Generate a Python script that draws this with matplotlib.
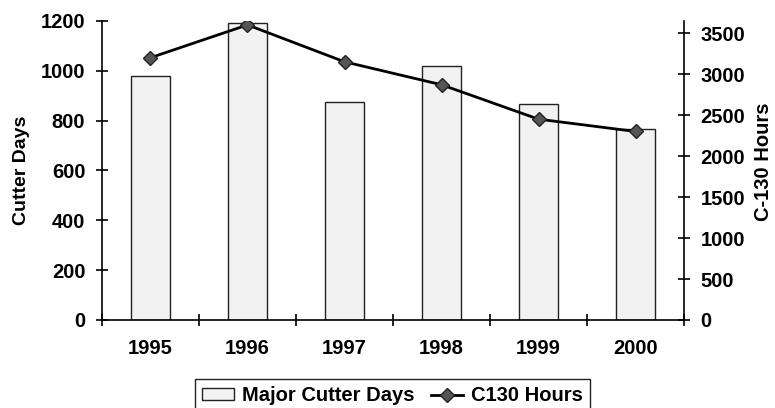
import numpy as np
import matplotlib.pyplot as plt

plt.rcParams['font.family'] = ['Liberation Sans', 'DejaVu Sans']

years = ['1995', '1996', '1997', '1998', '1999', '2000']
cutter_days = [980, 1190, 875, 1020, 865, 765]
c130_hours = [3200, 3600, 3150, 2870, 2450, 2300]

x = np.arange(len(years))

fig = plt.figure(figsize=(7.75, 4.08), dpi=100)
ax = fig.add_axes([0.1316, 0.2157, 0.7510, 0.7333])
ax2 = ax.twinx()

# bars on left axis
bars = ax.bar(x, cutter_days, width=0.4, color='#f2f2f2', edgecolor='#222222',
              linewidth=1.0, label='Major Cutter Days')
ax.set_xlim(-0.5, 5.5)
ax.set_ylim(0, 1200)
ax.set_yticks(np.arange(0, 1201, 200))

# line on right axis
line, = ax2.plot(x, c130_hours, color='black', linewidth=2, marker='D',
                 markersize=7.5, markerfacecolor='#555555', markeredgecolor='#222222',
                 label='C130 Hours')
ax2.set_ylim(0, 3650)
ax2.set_yticks(np.arange(0, 3501, 500))

# axes styling
for a in (ax, ax2):
    a.spines['top'].set_visible(False)
ax.spines['right'].set_visible(False)
ax2.spines['bottom'].set_visible(False)
ax2.spines['left'].set_visible(False)
for s in ('left', 'bottom'):
    ax.spines[s].set_linewidth(1.2)
ax2.spines['right'].set_linewidth(1.2)

ax.set_xticks(x)
ax.set_xticklabels(years)
ax.set_xticks(np.arange(-0.5, 6, 1), minor=True)
ax.tick_params(axis='x', which='major', length=0, pad=14, labelsize=14.5)
ax.tick_params(axis='x', which='minor', direction='inout', length=9, width=1.2)
ax.tick_params(axis='y', direction='inout', length=8, width=1.2, pad=8, labelsize=14.5)
ax2.tick_params(axis='y', direction='inout', length=8, width=1.2, pad=8, labelsize=14.5)
for lab in ax.get_xticklabels() + ax.get_yticklabels() + ax2.get_yticklabels():
    lab.set_fontweight('bold')

ax.set_ylabel('Cutter Days', fontsize=14, fontweight='bold', labelpad=8)
ax2.set_ylabel('C-130 Hours', fontsize=14.5, fontweight='bold', labelpad=8)
ax2.yaxis.set_label_coords(1.12, 0.53)

fig.legend([bars, line], ['Major Cutter Days', 'C130 Hours'],
           loc='upper center', bbox_to_anchor=(0.506, 0.071), ncol=2,
           frameon=True, fancybox=False, edgecolor='#222222', framealpha=1,
           prop={'size': 14.5, 'weight': 'bold'}, handlelength=1.6,
           handleheight=0.5, handletextpad=0.4, columnspacing=0.8,
           borderpad=0.35, borderaxespad=0)

fig.savefig('out.png', dpi=100)
